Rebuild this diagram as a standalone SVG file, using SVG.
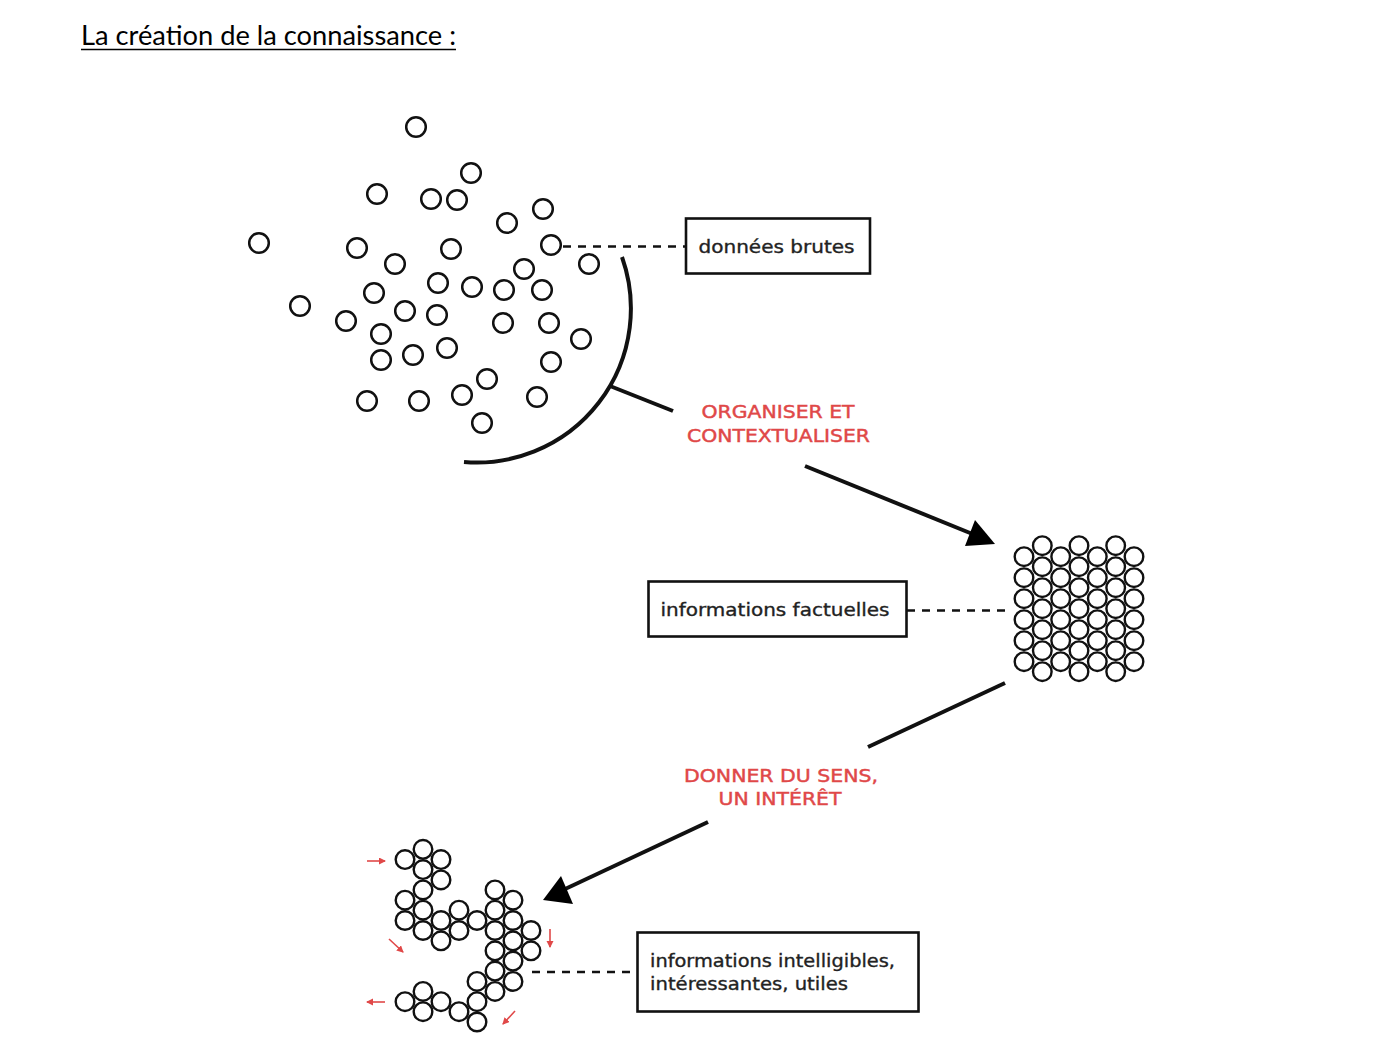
<svg xmlns="http://www.w3.org/2000/svg" width="1380" height="1050" viewBox="0 0 1380 1050">
<style>
  .dot { fill: none; stroke: #111; stroke-width: 2.5; }
  .pk { fill: #fff; stroke: #111; stroke-width: 2.4; }
  .box { fill: #fff; stroke: #111; stroke-width: 2.6; }
  .lbl { font-family: "DejaVu Sans", "Noto Sans", sans-serif; font-size: 18px; fill: #222; stroke: #222; stroke-width: 0.35; }
  .red { font-family: "DejaVu Sans", "Noto Sans", sans-serif; font-size: 18px; fill: #e04848; stroke: #e04848; stroke-width: 0.45; text-anchor: middle; }
  .dash { stroke: #111; stroke-width: 2.5; stroke-dasharray: 8 7; fill: none; }
  .line { stroke: #111; stroke-width: 4; fill: none; }
  .ra { stroke: #e04848; stroke-width: 1.6; fill: none; marker-end: url(#rh); }
</style>
<defs>
  <marker id="rh" markerUnits="userSpaceOnUse" markerWidth="8" markerHeight="8" refX="6" refY="3.5" orient="auto">
    <path d="M0,0 L7,3.5 L0,7 Z" fill="#e04848"/>
  </marker>
</defs>
<rect width="1380" height="1050" fill="#fff"/>

<g id="title">
  <text x="81" y="45" font-family="Lato, 'Open Sans', sans-serif" font-size="26" fill="#000" textLength="375" lengthAdjust="spacingAndGlyphs">La création de la connaissance :</text>
  <line x1="81" y1="49.5" x2="456" y2="49.5" stroke="#000" stroke-width="1.6"/>
</g>

<g id="donnees-brutes-points">
  <circle class="dot" cx="416" cy="127" r="9.8"/>
  <circle class="dot" cx="471" cy="173" r="9.8"/>
  <circle class="dot" cx="377" cy="194" r="9.8"/>
  <circle class="dot" cx="431" cy="199" r="9.8"/>
  <circle class="dot" cx="457" cy="200" r="9.8"/>
  <circle class="dot" cx="543" cy="209" r="9.8"/>
  <circle class="dot" cx="507" cy="223" r="9.8"/>
  <circle class="dot" cx="259" cy="243" r="9.8"/>
  <circle class="dot" cx="357" cy="248" r="9.8"/>
  <circle class="dot" cx="451" cy="249" r="9.8"/>
  <circle class="dot" cx="551" cy="245" r="9.8"/>
  <circle class="dot" cx="395" cy="264" r="9.8"/>
  <circle class="dot" cx="589" cy="264" r="9.8"/>
  <circle class="dot" cx="524" cy="269" r="9.8"/>
  <circle class="dot" cx="438" cy="283" r="9.8"/>
  <circle class="dot" cx="472" cy="287" r="9.8"/>
  <circle class="dot" cx="504" cy="290" r="9.8"/>
  <circle class="dot" cx="542" cy="290" r="9.8"/>
  <circle class="dot" cx="374" cy="293" r="9.8"/>
  <circle class="dot" cx="300" cy="306" r="9.8"/>
  <circle class="dot" cx="405" cy="311" r="9.8"/>
  <circle class="dot" cx="437" cy="315" r="9.8"/>
  <circle class="dot" cx="346" cy="321" r="9.8"/>
  <circle class="dot" cx="503" cy="323" r="9.8"/>
  <circle class="dot" cx="549" cy="323" r="9.8"/>
  <circle class="dot" cx="381" cy="334" r="9.8"/>
  <circle class="dot" cx="581" cy="339" r="9.8"/>
  <circle class="dot" cx="381" cy="360" r="9.8"/>
  <circle class="dot" cx="413" cy="355" r="9.8"/>
  <circle class="dot" cx="447" cy="348" r="9.8"/>
  <circle class="dot" cx="551" cy="362" r="9.8"/>
  <circle class="dot" cx="487" cy="379" r="9.8"/>
  <circle class="dot" cx="367" cy="401" r="9.8"/>
  <circle class="dot" cx="419" cy="401" r="9.8"/>
  <circle class="dot" cx="462" cy="395" r="9.8"/>
  <circle class="dot" cx="537" cy="397" r="9.8"/>
  <circle class="dot" cx="482" cy="423" r="9.8"/>
</g>

<g id="label-donnees-brutes">
  <rect class="box" x="686" y="218.5" width="184" height="55"/>
  <text class="lbl" x="698.5" y="253" textLength="156" lengthAdjust="spacingAndGlyphs">données brutes</text>
</g>

<g id="label-organiser">
  <text class="red" x="778" y="418" textLength="153" lengthAdjust="spacingAndGlyphs">ORGANISER ET</text>
  <text class="red" x="778.5" y="441.5" textLength="183" lengthAdjust="spacingAndGlyphs">CONTEXTUALISER</text>
</g>

<g id="informations-factuelles-points">
  <circle class="pk" cx="1024" cy="556.7" r="9.3"/>
  <circle class="pk" cx="1024" cy="577.7" r="9.3"/>
  <circle class="pk" cx="1024" cy="598.7" r="9.3"/>
  <circle class="pk" cx="1024" cy="619.7" r="9.3"/>
  <circle class="pk" cx="1024" cy="640.7" r="9.3"/>
  <circle class="pk" cx="1024" cy="661.7" r="9.3"/>
  <circle class="pk" cx="1042.3" cy="545.7" r="9.3"/>
  <circle class="pk" cx="1042.3" cy="566.7" r="9.3"/>
  <circle class="pk" cx="1042.3" cy="587.7" r="9.3"/>
  <circle class="pk" cx="1042.3" cy="608.7" r="9.3"/>
  <circle class="pk" cx="1042.3" cy="629.7" r="9.3"/>
  <circle class="pk" cx="1042.3" cy="650.7" r="9.3"/>
  <circle class="pk" cx="1042.3" cy="671.7" r="9.3"/>
  <circle class="pk" cx="1060.7" cy="556.7" r="9.3"/>
  <circle class="pk" cx="1060.7" cy="577.7" r="9.3"/>
  <circle class="pk" cx="1060.7" cy="598.7" r="9.3"/>
  <circle class="pk" cx="1060.7" cy="619.7" r="9.3"/>
  <circle class="pk" cx="1060.7" cy="640.7" r="9.3"/>
  <circle class="pk" cx="1060.7" cy="661.7" r="9.3"/>
  <circle class="pk" cx="1079" cy="545.7" r="9.3"/>
  <circle class="pk" cx="1079" cy="566.7" r="9.3"/>
  <circle class="pk" cx="1079" cy="587.7" r="9.3"/>
  <circle class="pk" cx="1079" cy="608.7" r="9.3"/>
  <circle class="pk" cx="1079" cy="629.7" r="9.3"/>
  <circle class="pk" cx="1079" cy="650.7" r="9.3"/>
  <circle class="pk" cx="1079" cy="671.7" r="9.3"/>
  <circle class="pk" cx="1097.3" cy="556.7" r="9.3"/>
  <circle class="pk" cx="1097.3" cy="577.7" r="9.3"/>
  <circle class="pk" cx="1097.3" cy="598.7" r="9.3"/>
  <circle class="pk" cx="1097.3" cy="619.7" r="9.3"/>
  <circle class="pk" cx="1097.3" cy="640.7" r="9.3"/>
  <circle class="pk" cx="1097.3" cy="661.7" r="9.3"/>
  <circle class="pk" cx="1115.7" cy="545.7" r="9.3"/>
  <circle class="pk" cx="1115.7" cy="566.7" r="9.3"/>
  <circle class="pk" cx="1115.7" cy="587.7" r="9.3"/>
  <circle class="pk" cx="1115.7" cy="608.7" r="9.3"/>
  <circle class="pk" cx="1115.7" cy="629.7" r="9.3"/>
  <circle class="pk" cx="1115.7" cy="650.7" r="9.3"/>
  <circle class="pk" cx="1115.7" cy="671.7" r="9.3"/>
  <circle class="pk" cx="1134" cy="556.7" r="9.3"/>
  <circle class="pk" cx="1134" cy="577.7" r="9.3"/>
  <circle class="pk" cx="1134" cy="598.7" r="9.3"/>
  <circle class="pk" cx="1134" cy="619.7" r="9.3"/>
  <circle class="pk" cx="1134" cy="640.7" r="9.3"/>
  <circle class="pk" cx="1134" cy="661.7" r="9.3"/>
</g>

<g id="label-informations-factuelles">
  <rect class="box" x="648.5" y="581.5" width="258" height="55"/>
  <text class="lbl" x="660.5" y="615.5" textLength="229" lengthAdjust="spacingAndGlyphs">informations factuelles</text>
</g>

<g id="label-donner-sens">
  <text class="red" x="781" y="781.5" textLength="194" lengthAdjust="spacingAndGlyphs">DONNER DU SENS,</text>
  <text class="red" x="780" y="805" textLength="123" lengthAdjust="spacingAndGlyphs">UN INTÉRÊT</text>
</g>

<g id="informations-intelligibles-points">
  <circle class="pk" cx="405" cy="859.6" r="9.3"/>
  <circle class="pk" cx="405" cy="900.2" r="9.3"/>
  <circle class="pk" cx="405" cy="920.5" r="9.3"/>
  <circle class="pk" cx="405" cy="1001.7" r="9.3"/>
  <circle class="pk" cx="423" cy="849.3" r="9.3"/>
  <circle class="pk" cx="423" cy="869.6" r="9.3"/>
  <circle class="pk" cx="423" cy="889.9" r="9.3"/>
  <circle class="pk" cx="423" cy="910.2" r="9.3"/>
  <circle class="pk" cx="423" cy="930.5" r="9.3"/>
  <circle class="pk" cx="423" cy="991.4" r="9.3"/>
  <circle class="pk" cx="423" cy="1011.7" r="9.3"/>
  <circle class="pk" cx="441" cy="859.6" r="9.3"/>
  <circle class="pk" cx="441" cy="879.9" r="9.3"/>
  <circle class="pk" cx="441" cy="920.5" r="9.3"/>
  <circle class="pk" cx="441" cy="940.8" r="9.3"/>
  <circle class="pk" cx="441" cy="1001.7" r="9.3"/>
  <circle class="pk" cx="459" cy="910.2" r="9.3"/>
  <circle class="pk" cx="459" cy="930.5" r="9.3"/>
  <circle class="pk" cx="459" cy="1011.7" r="9.3"/>
  <circle class="pk" cx="477" cy="920.5" r="9.3"/>
  <circle class="pk" cx="477" cy="981.4" r="9.3"/>
  <circle class="pk" cx="477" cy="1001.7" r="9.3"/>
  <circle class="pk" cx="477" cy="1022" r="9.3"/>
  <circle class="pk" cx="495" cy="889.9" r="9.3"/>
  <circle class="pk" cx="495" cy="910.2" r="9.3"/>
  <circle class="pk" cx="495" cy="930.5" r="9.3"/>
  <circle class="pk" cx="495" cy="950.8" r="9.3"/>
  <circle class="pk" cx="495" cy="971.1" r="9.3"/>
  <circle class="pk" cx="495" cy="991.4" r="9.3"/>
  <circle class="pk" cx="513" cy="900.2" r="9.3"/>
  <circle class="pk" cx="513" cy="920.5" r="9.3"/>
  <circle class="pk" cx="513" cy="940.8" r="9.3"/>
  <circle class="pk" cx="513" cy="961.1" r="9.3"/>
  <circle class="pk" cx="513" cy="981.4" r="9.3"/>
  <circle class="pk" cx="531" cy="930.5" r="9.3"/>
  <circle class="pk" cx="531" cy="950.8" r="9.3"/>
</g>

<g id="red-arrows">
  <line class="ra" x1="367" y1="861" x2="385" y2="861"/>
  <line class="ra" x1="389" y1="939" x2="403" y2="952"/>
  <line class="ra" x1="550" y1="929" x2="550" y2="947"/>
  <line class="ra" x1="385" y1="1002" x2="367" y2="1002"/>
  <line class="ra" x1="515" y1="1011" x2="503" y2="1024"/>
</g>

<g id="label-informations-intelligibles">
  <rect class="box" x="637.5" y="932.5" width="281" height="79"/>
  <text class="lbl" x="650" y="966.5" textLength="245" lengthAdjust="spacingAndGlyphs">informations intelligibles,</text>
  <text class="lbl" x="650" y="990" textLength="198" lengthAdjust="spacingAndGlyphs">intéressantes, utiles</text>
</g>

<g id="connectors">
  <line class="dash" x1="563" y1="246.5" x2="686" y2="246.5"/>
  <path class="line" d="M 622 257 A 154 154 0 0 1 464 462" stroke-width="3.5"/>
  <line class="line" x1="610" y1="386" x2="673" y2="411" stroke-width="3.5"/>
  <line class="line" x1="805" y1="466" x2="975" y2="535"/>
  <polygon points="995,544 975,520 965,546" fill="#000"/>
  <line class="dash" x1="907" y1="610.5" x2="1012" y2="610.5"/>
  <line class="line" x1="1005" y1="683" x2="868" y2="747"/>
  <line class="line" x1="708" y1="822" x2="563" y2="890"/>
  <polygon points="543,900 561,876 573,904" fill="#000"/>
  <line class="dash" x1="532" y1="972" x2="637" y2="972"/>
</g>
</svg>
